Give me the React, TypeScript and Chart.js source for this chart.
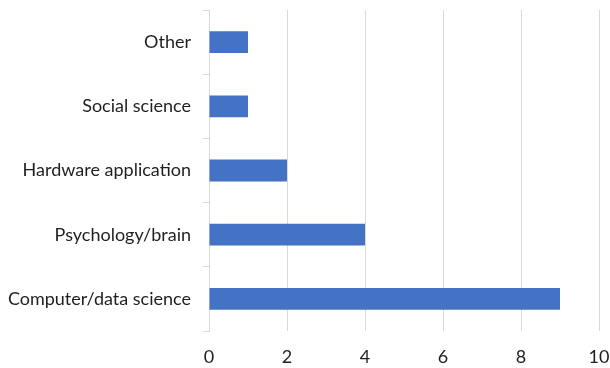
import React, { useEffect, useRef } from "react";
import { Chart, registerables } from "chart.js";

Chart.register(...registerables);

// Fields, listed top to bottom as they appear on the axis
const categories = [
  "Other",
  "Social science",
  "Hardware application",
  "Psychology/brain",
  "Computer/data science",
];
const counts = [1, 1, 2, 4, 9];
const xTicks = [0, 2, 4, 6, 8, 10];

const FONT = "Lato, 'Open Sans', sans-serif";
const TEXT = "#1f1f1f";
const GRID = "#d9d9d9";
const BAR = "#4472c4";

export default function App() {
  const ref = useRef<HTMLCanvasElement | null>(null);

  useEffect(() => {
    document.body.style.margin = "0";
    const canvas = ref.current;
    if (!canvas) return;
    const chart = new Chart(canvas, {
      type: "bar",
      data: {
        labels: categories,
        datasets: [
          {
            data: counts,
            backgroundColor: BAR,
            borderWidth: 0,
            barPercentage: 0.68,
            categoryPercentage: 0.5,
          },
        ],
      },
      options: {
        indexAxis: "y",
        animation: false,
        responsive: false,
        devicePixelRatio: 1,
        layout: { padding: { top: 10, right: 0, left: 0, bottom: 0 } },
        plugins: {
          legend: { display: false },
          tooltip: { enabled: false },
        },
        scales: {
          x: {
            min: xTicks[0],
            max: xTicks[xTicks.length - 1],
            afterBuildTicks: (scale: any) => {
              scale.ticks = xTicks.map((v) => ({ value: v }));
            },
            afterFit: (scale: any) => {
              scale.height = 37;
              scale.paddingRight = 11;
              scale.paddingLeft = 0;
            },
            grid: { color: GRID, lineWidth: 1, drawTicks: false },
            border: { display: false },
            ticks: {
              padding: 15,
              color: TEXT,
              font: { family: FONT, size: 18 },
            },
          },
          y: {
            offset: true,
            afterFit: (scale: any) => {
              scale.width = 209;
              scale.paddingTop = 0;
              scale.paddingBottom = 0;
            },
            grid: {
              offset: true,
              drawOnChartArea: false,
              drawTicks: true,
              tickLength: 6,
              color: GRID,
              lineWidth: 1,
            },
            border: { display: true, color: GRID, width: 1 },
            ticks: {
              padding: 12,
              color: TEXT,
              font: { family: FONT, size: 18 },
            },
          },
        },
      },
    });
    return () => chart.destroy();
  }, []);

  return <canvas ref={ref} width={610} height={368} style={{ display: "block" }} />;
}
